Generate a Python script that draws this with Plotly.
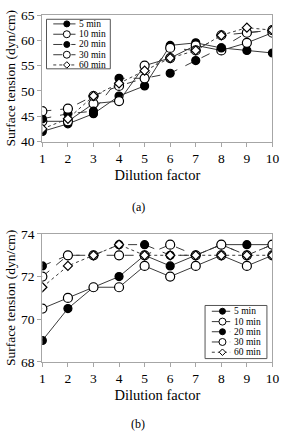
import plotly.graph_objects as go

dilution = [1, 2, 3, 4, 5, 6, 7, 8, 9, 10]
series_names = ["5 min", "10 min", "20 min", "30 min", "60 min"]

# Panel (a)
a_5 = [42.0, 43.5, 45.5, 49.0, 51.0, 59.0, 59.5, 58.5, 58.0, 57.5]
a_10 = [44.0, 44.0, 47.5, 48.0, 55.0, 56.5, 59.0, 58.0, 59.5, 61.5]
a_20 = [44.5, 45.5, 46.0, 52.5, 52.5, 53.5, 56.0, 58.5, 61.5, 62.0]
a_30 = [46.0, 46.5, 49.0, 51.0, 52.5, 58.5, 58.0, 61.0, 61.5, 62.0]
a_60 = [42.5, 44.5, 49.0, 51.5, 54.0, 56.5, 58.0, 61.0, 62.5, 62.0]

# Panel (b)
b_5 = [69.0, 70.5, 71.5, 72.0, 73.0, 72.5, 73.0, 73.5, 73.5, 73.5]
b_10 = [70.5, 71.0, 71.5, 71.5, 72.5, 72.0, 72.5, 73.0, 72.5, 73.0]
b_20 = [72.5, 73.0, 73.0, 73.5, 73.5, 73.0, 73.0, 73.5, 73.0, 73.5]
b_30 = [72.0, 73.0, 73.0, 73.0, 73.0, 73.5, 73.0, 73.5, 73.0, 73.5]
b_60 = [71.5, 72.5, 73.0, 73.5, 73.0, 73.0, 73.0, 73.0, 73.0, 73.0]

a_ticks = [40, 45, 50, 55, 60, 65]
b_ticks = [68, 70, 72, 74]

W, H = 301, 440
FONT = "'Liberation Serif', 'DejaVu Serif', serif"
LINE_C = "#3a3a3a"
FRAME_C = "#a6a6a6"

styles = [
    dict(dash="solid", symbol="circle", fill="black", size=8),
    dict(dash="solid", symbol="circle", fill="white", size=9),
    dict(dash="dash", symbol="circle", fill="black", size=8),
    dict(dash="dash", symbol="circle", fill="white", size=9),
    dict(dash="dot", symbol="diamond", fill="white", size=7),
]

fig = go.Figure()

def add_panel(vals, xa, ya):
    for name, v, st in zip(series_names, vals, styles):
        fig.add_trace(go.Scatter(
            x=dilution, y=v, name=name, mode="lines+markers",
            line=dict(color=LINE_C, width=1, dash=st["dash"]),
            marker=dict(symbol=st["symbol"], size=st["size"], color=st["fill"],
                        line=dict(color="black", width=1.2)),
            xaxis=xa, yaxis=ya, showlegend=False, hoverinfo="skip"))

add_panel([a_5, a_10, a_20, a_30, a_60], "x", "y")
add_panel([b_5, b_10, b_20, b_30, b_60], "x2", "y2")

# Legend drawn in a pixel-coordinate overlay axis
def legend(x0, x1, y0, y1, rows, lx0, lx1, mx, tx):
    fig.add_shape(type="rect", xref="x3", yref="y3", x0=x0, x1=x1, y0=y0, y1=y1,
                  line=dict(color="#555", width=1), fillcolor="white", layer="below")
    for name, st, ry in zip(series_names, styles, rows):
        fig.add_trace(go.Scatter(
            x=[lx0, lx1], y=[ry, ry], mode="lines",
            line=dict(color=LINE_C, width=1, dash=st["dash"]),
            xaxis="x3", yaxis="y3", showlegend=False, hoverinfo="skip"))
        fig.add_trace(go.Scatter(
            x=[mx], y=[ry], mode="markers",
            marker=dict(symbol=st["symbol"], size=st["size"] - 2, color=st["fill"],
                        line=dict(color="black", width=1)),
            xaxis="x3", yaxis="y3", showlegend=False, hoverinfo="skip"))
        fig.add_annotation(x=tx, y=ry, xref="x3", yref="y3", text=name,
                           showarrow=False, xanchor="left", yanchor="middle",
                           font=dict(family=FONT, size=9.5, color="black"))

legend(45, 111, 12.7, 64, [17.5, 28.2, 38.8, 49.4, 60.0], 52, 75, 66, 77)
legend(209, 273, 309, 364, [315, 325.7, 336.2, 346.8, 357.4], 216, 235, 227, 237)

# Captions
fig.add_annotation(x=140, y=207, xref="x3", yref="y3", text="(a)", showarrow=False,
                   font=dict(family=FONT, size=12, color="black"))
fig.add_annotation(x=140, y=432, xref="x3", yref="y3", text="(b)", showarrow=False,
                   font=dict(family=FONT, size=12, color="black"))

xl, xr = 40.7 / W, 278.7 / W
a_dom = [1 - 139.3 / H, 1 - 8.3 / H]
b_dom = [1 - 367.3 / H, 1 - 235.0 / H]

axis_common = dict(showgrid=False, zeroline=False, showline=True, linecolor=FRAME_C,
                   linewidth=1.3, mirror=True, ticks="outside", ticklen=4,
                   tickcolor=FRAME_C, tickfont=dict(family=FONT, size=13.5, color="black"),
                   fixedrange=True)

fig.update_layout(
    width=W, height=H, margin=dict(l=0, r=0, t=0, b=0),
    paper_bgcolor="white", plot_bgcolor="rgba(0,0,0,0)", showlegend=False,
    font=dict(family=FONT),
    xaxis=dict(domain=[xl, xr], range=[1, 10], tickvals=dilution, anchor="y",
               title=dict(text="Dilution factor", font=dict(family=FONT, size=14.5, color="black"), standoff=4),
               **axis_common),
    yaxis=dict(domain=a_dom, range=[40, 65], tickvals=a_ticks, anchor="x",
               title=dict(text="Surface tension (dyn/cm)", font=dict(family=FONT, size=13.5, color="black"), standoff=2),
               **axis_common),
    xaxis2=dict(domain=[xl, xr], range=[1, 10], tickvals=dilution, anchor="y2",
                title=dict(text="Dilution factor", font=dict(family=FONT, size=14.5, color="black"), standoff=4),
                **axis_common),
    yaxis2=dict(domain=b_dom, range=[68, 74], tickvals=b_ticks, anchor="x2",
                title=dict(text="Surface tension (dyn/cm)", font=dict(family=FONT, size=13.5, color="black"), standoff=2),
                **axis_common),
    xaxis3=dict(domain=[0, 1], range=[0, W], visible=False, fixedrange=True, anchor="y3"),
    yaxis3=dict(domain=[0, 1], range=[H, 0], visible=False, fixedrange=True, anchor="x3"),
)

fig.write_html("out.html")
